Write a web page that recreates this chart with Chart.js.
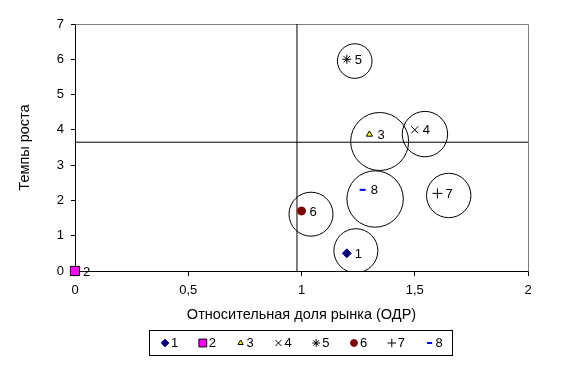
<!DOCTYPE html>
<html><head><meta charset="utf-8">
<script src="https://cdn.jsdelivr.net/npm/chart.js@4/dist/chart.umd.min.js"></script>
<style>html,body{margin:0;padding:0;background:#fff}#wrap{width:564px;height:373px}</style>
</head><body><div id="wrap"><canvas id="c" width="564" height="373"></canvas></div>
<script>
// ---- data ----
const categories = ['1','2','3','4','5','6','7','8'];
const shareX  = [1.2, 0, 1.3, 1.5, 1.2, 1.0, 1.6, 1.27];     // относительная доля рынка
const growthY = [0.5, 0, 3.87, 4.0, 6.0, 1.7, 2.2, 2.3];     // темпы роста
const circleX = [1.24, 0, 1.345, 1.545, 1.235, 1.042, 1.65, 1.325];
const circleY = [0.575, 0, 3.67, 3.88, 5.95, 1.61, 2.14, 2.04];
const circleR = [22, 0, 29, 22.7, 17.3, 22, 22.2, 28.2];
const medianX = 0.98;
const medianY = 3.65;
const xTicks = [0, 0.5, 1, 1.5, 2];
const yTicks = [0, 1, 2, 3, 4, 5, 6, 7];

const FONT = '"Liberation Sans", Arial, sans-serif';
const styles = [
  {pointStyle:'rectRot', radius:4.5, bg:'#000080', bc:'#000080', bw:1},
  {pointStyle:'rect', radius:6.5, bg:'#FF00FF', bc:'#000000', bw:1},
  {pointStyle:'triangle', radius:3.5, bg:'#FFFF00', bc:'#000000', bw:1},
  {pointStyle:'crossRot', radius:5, bg:'#000000', bc:'#000000', bw:1},
  {pointStyle:'star', radius:4.5, bg:'#000000', bc:'#000000', bw:1},
  {pointStyle:'circle', radius:4, bg:'#800000', bc:'#800000', bw:1},
  {pointStyle:'cross', radius:5, bg:'#000000', bc:'#000000', bw:1},
  {pointStyle:'line', radius:3, bg:'#0000FF', bc:'#0000FF', bw:2}
];

const datasets = [];
datasets.push({type:'line', label:'vline', data:[{x:medianX,y:yTicks[0]},{x:medianX,y:yTicks[yTicks.length-1]}],
  borderColor:'#000', borderWidth:1, pointRadius:0, showLine:true, fill:false, order:3});
datasets.push({type:'line', label:'hline', data:[{x:xTicks[0],y:medianY},{x:xTicks[xTicks.length-1],y:medianY}],
  borderColor:'#000', borderWidth:1, pointRadius:0, showLine:true, fill:false, order:3});
datasets.push({type:'bubble', label:'circles',
  data: categories.map((c,i)=>({x:circleX[i], y:circleY[i], r:circleR[i]})),
  backgroundColor:'rgba(0,0,0,0)', borderColor:'#000', borderWidth:1, hoverRadius:0, order:2});
categories.forEach((c,i)=>{
  const s = styles[i];
  datasets.push({type:'scatter', label:c, data:[{x:shareX[i], y:growthY[i]}],
    pointStyle:s.pointStyle, pointRadius:s.radius, pointHoverRadius:s.radius,
    backgroundColor:s.bg, borderColor:s.bc, borderWidth:s.bw, order:1, clip:false, isMarker:true});
});

const decorPlugin = {
  id:'decor',
  beforeDatasetsDraw(chart){
    const {ctx, chartArea:a} = chart;
    ctx.save();
    ctx.strokeStyle = '#808080'; ctx.lineWidth = 1;
    ctx.beginPath();
    ctx.moveTo(Math.round(a.left)+0.5, Math.round(a.top)+0.5);
    ctx.lineTo(Math.round(a.right)+0.5, Math.round(a.top)+0.5);
    ctx.lineTo(Math.round(a.right)+0.5, Math.round(a.bottom)+0.5);
    ctx.stroke();
    ctx.restore();
  },
  afterDraw(chart){
    const {ctx, chartArea:a} = chart;
    ctx.save();
    // point labels
    ctx.fillStyle = '#000';
    ctx.font = '13px ' + FONT;
    ctx.textBaseline = 'middle';
    ctx.textAlign = 'left';
    chart.data.datasets.forEach((ds, di)=>{
      if (!ds.isMarker) return;
      const el = chart.getDatasetMeta(di).data[0];
      ctx.fillText(ds.label, el.x + 8, el.y + 1);
    });
    // axis titles
    ctx.font = '14.5px ' + FONT;
    ctx.textAlign = 'center';
    ctx.fillText('Относительная доля рынка (ОДР)', (a.left + a.right)/2, a.bottom + 44);
    ctx.save();
    ctx.translate(25, (a.top + a.bottom)/2);
    ctx.rotate(-Math.PI/2);
    ctx.fillText('Темпы роста', 0, 0);
    ctx.restore();
    // legend
    const lx = 149.5, ly = 330.5, lw = 303, lh = 25, step = 37.8;
    ctx.strokeStyle = '#000'; ctx.lineWidth = 1;
    ctx.strokeRect(lx, ly, lw, lh);
    ctx.font = '13px ' + FONT;
    ctx.textAlign = 'left';
    const cy = ly + lh/2;
    chart.data.datasets.forEach((ds)=>{
      if (!ds.isMarker) return;
      const i = categories.indexOf(ds.label);
      const mx = lx + 15.5 + i*step;
      ctx.fillStyle = ds.backgroundColor; ctx.strokeStyle = ds.borderColor; ctx.lineWidth = ds.borderWidth;
      Chart.helpers.drawPoint(ctx, {pointStyle:ds.pointStyle, radius:ds.pointRadius*0.85, borderWidth:ds.borderWidth, rotation:0}, mx, cy);
      ctx.fillStyle = '#000';
      ctx.fillText(ds.label, mx + 6, cy + 0.5);
    });
    ctx.restore();
  }
};

new Chart(document.getElementById('c'), {
  type:'scatter',
  data:{datasets},
  options:{
    responsive:false, animation:false, events:[],
    layout:{autoPadding:false, padding:{left:0, right:36, top:24, bottom:0}},
    plugins:{legend:{display:false}, tooltip:{enabled:false}},
    scales:{
      x:{type:'linear', min:xTicks[0], max:xTicks[xTicks.length-1],
        afterBuildTicks(s){ s.ticks = xTicks.map(v=>({value:v})); },
        afterFit(s){ s.height = 102; },
        ticks:{color:'#000', font:{family:FONT, size:13}, padding:7, maxRotation:0,
          callback:(v)=>String(v).replace('.', ',')},
        grid:{drawOnChartArea:false, tickLength:5, color:'#000'},
        border:{color:'#000', width:1}},
      y:{type:'linear', min:yTicks[0], max:yTicks[yTicks.length-1],
        afterBuildTicks(s){ s.ticks = yTicks.map(v=>({value:v})); },
        afterFit(s){ s.width = 75; },
        ticks:{color:'#000', font:{family:FONT, size:13}, padding:7,
          callback:(v)=>String(v).replace('.', ',')},
        grid:{drawOnChartArea:false, tickLength:4, color:'#000'},
        border:{color:'#000', width:1}}
    }
  },
  plugins:[decorPlugin]
});
</script></body></html>
